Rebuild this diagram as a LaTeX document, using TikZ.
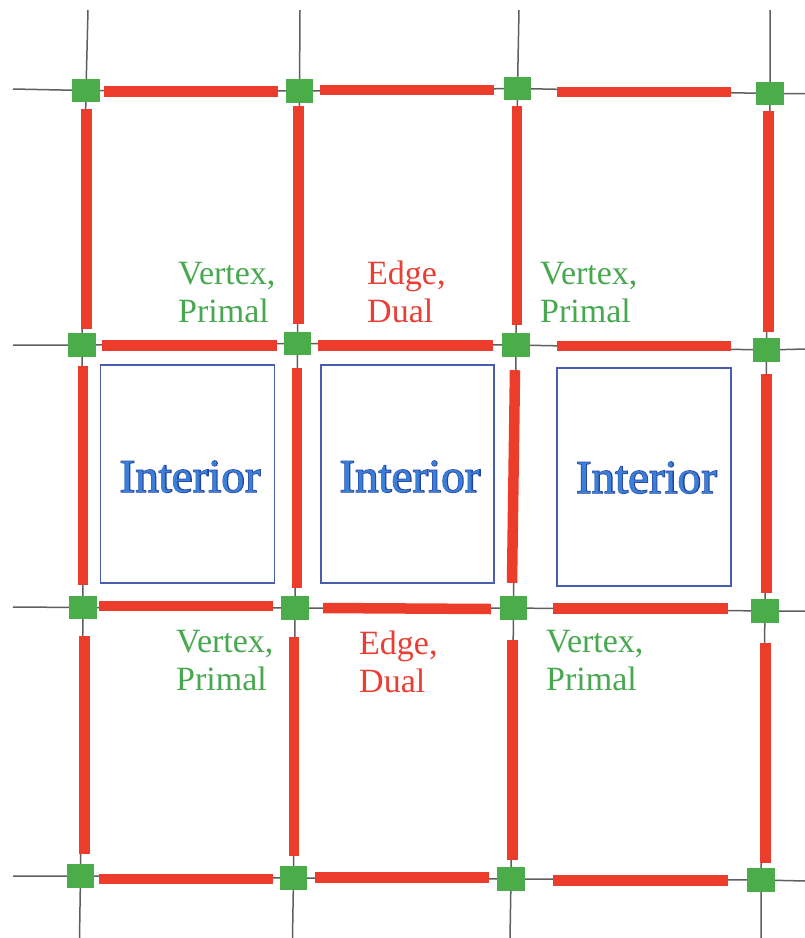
\documentclass[tikz,border=0pt]{standalone}
\usepackage{fontspec}
\setmainfont{Liberation Serif}
\newfontfamily\interiorheavy[FakeBold=3]{Liberation Serif}
\definecolor{vgreen}{RGB}{74,173,74}
\definecolor{ered}{RGB}{236,60,44}
\definecolor{lgreen}{RGB}{72,168,80}
\definecolor{lred}{RGB}{234,62,52}
\definecolor{gridgray}{RGB}{95,95,95}
\definecolor{boxblue}{RGB}{72,92,176}
\definecolor{intfill}{RGB}{58,128,214}
\definecolor{intedge}{RGB}{40,66,160}
\tikzset{
  vtx/.style={rectangle, fill=vgreen, draw=none, inner sep=0pt,
              minimum width=27pt, minimum height=23pt},
  gridline/.style={draw=gridgray, line width=1.5pt},
  bar/.style={draw=ered, line width=10.5pt, line cap=butt},
  ibox/.style={rectangle, draw=boxblue, line width=1.2pt, inner sep=0pt},
  intext/.style={anchor=base, inner sep=0pt, text=intfill,
                 font=\fontsize{47}{50}\selectfont},
  intoutline/.style={anchor=base, inner sep=0pt, text=intedge,
                 font=\interiorheavy\fontsize{47}{50}\selectfont},
  vlabel/.style={anchor=base west, inner sep=0pt, align=left, text=lgreen,
                 font=\fontsize{34}{37.5}\selectfont},
  elabel/.style={anchor=base west, inner sep=0pt, align=left, text=lred,
                 font=\fontsize{34}{37.5}\selectfont}
}
% horizontal edge: #1 left node, #2 right node, #3,#4 start shift, #5,#6 end shift
\newcommand{\hedge}[6]{\draw[bar] ([xshift=#3pt,yshift=#4pt]#1.east) -- ([xshift=#5pt,yshift=#6pt]#2.west);}
% vertical edge: #1 upper node, #2 lower node, #3,#4 start shift, #5,#6 end shift
\newcommand{\vedge}[6]{\draw[bar] ([xshift=#3pt,yshift=#4pt]#1.south) -- ([xshift=#5pt,yshift=#6pt]#2.north);}
\begin{document}
\begin{tikzpicture}[x=1pt,y=-1pt]
\useasboundingbox[fill=white] (0,0) rectangle (805,938);

% vertices of the grid
\node[vtx] (v00) at (86,90.5) {};
\node[vtx] (v01) at (299.5,91) {};
\node[vtx] (v02) at (517.5,88.5) {};
\node[vtx] (v03) at (770,93.5) {};
\node[vtx] (v10) at (82,345) {};
\node[vtx] (v11) at (297.5,343.5) {};
\node[vtx] (v12) at (516,345) {};
\node[vtx] (v13) at (766.5,350) {};
\node[vtx] (v20) at (83,607.5) {};
\node[vtx] (v21) at (295,608) {};
\node[vtx] (v22) at (513.5,608) {};
\node[vtx] (v23) at (765,611) {};
\node[vtx] (v30) at (80.5,876) {};
\node[vtx] (v31) at (293.5,878) {};
\node[vtx] (v32) at (511,879) {};
\node[vtx] (v33) at (761,880) {};

% free ends of the grid lines
\coordinate (t0) at (88,10);
\coordinate (t1) at (300,10);
\coordinate (t2) at (519,10);
\coordinate (t3) at (770,10);
\coordinate (b0) at (79.5,938);
\coordinate (b1) at (292.5,938);
\coordinate (b2) at (510,938);
\coordinate (b3) at (761,938);
\coordinate (l0) at (13,89);
\coordinate (l1) at (13,345);
\coordinate (l2) at (13,607);
\coordinate (l3) at (13,876);
\coordinate (r0) at (805,93.5);
\coordinate (r1) at (805,349);
\coordinate (r2) at (805,611);
\coordinate (r3) at (805,881);

% thin grid lines
\draw[gridline] (t0) -- (v00.center) -- (v10.center) -- (v20.center) -- (v30.center) -- (b0);
\draw[gridline] (t1) -- (v01.center) -- (v11.center) -- (v21.center) -- (v31.center) -- (b1);
\draw[gridline] (t2) -- (v02.center) -- (v12.center) -- (v22.center) -- (v32.center) -- (b2);
\draw[gridline] (t3) -- (v03.center) -- (v13.center) -- (v23.center) -- (v33.center) -- (b3);
\draw[gridline] (l0) -- (v00.center) -- (v01.center) -- (v02.center) -- (v03.center) -- (r0);
\draw[gridline] (l1) -- (v10.center) -- (v11.center) -- (v12.center) -- (v13.center) -- (r1);
\draw[gridline] (l2) -- (v20.center) -- (v21.center) -- (v22.center) -- (v23.center) -- (r2);
\draw[gridline] (l3) -- (v30.center) -- (v31.center) -- (v32.center) -- (v33.center) -- (r3);

% red edges, horizontal
\hedge{v00}{v01}{4.5}{-1}{-8}{-0.5}
\hedge{v01}{v02}{7}{1}{-10}{-1.5}
\hedge{v02}{v03}{26}{-3.5}{-25.5}{1.5}
\hedge{v10}{v11}{6.5}{-0.5}{-7}{-2}
\hedge{v11}{v12}{7}{-2}{-9.5}{-0.5}
\hedge{v12}{v13}{27.5}{-1}{-22}{4}
\hedge{v20}{v21}{2.5}{1.5}{-8.5}{2}
\hedge{v21}{v22}{14.5}{0}{-9}{-1}
\hedge{v22}{v23}{26}{-0.5}{-23.5}{2.5}
\hedge{v30}{v31}{5}{-3}{-7}{-1}
\hedge{v31}{v32}{8}{0.5}{-8.5}{1.5}
\hedge{v32}{v33}{28.5}{-1.5}{-19.5}{-0.5}

% red edges, vertical
\vedge{v00}{v10}{0.5}{-7}{4.5}{4.5}
\vedge{v10}{v20}{1}{-9.5}{0}{11}
\vedge{v20}{v30}{1.5}{-17}{4}{10.5}
\vedge{v01}{v11}{-1}{-3.5}{1}{8}
\vedge{v11}{v21}{-0.5}{-13}{2}{8.5}
\vedge{v21}{v31}{-1}{-17.5}{0.5}{10.5}
\vedge{v02}{v12}{-0.5}{-6}{1}{8.5}
\vedge{v12}{v22}{-1}{-13.5}{-1.5}{13.5}
\vedge{v22}{v32}{-1}{-20.5}{1.5}{7.5}
\vedge{v03}{v13}{-1.5}{-6}{2}{6.5}
\vedge{v13}{v23}{0}{-12.5}{1.5}{6.5}
\vedge{v23}{v33}{0.5}{-20.5}{4.5}{5.5}

% vertices painted again on top of the lines
\foreach \v in {v00,v01,v02,v03,v10,v11,v12,v13,v20,v21,v22,v23,v30,v31,v32,v33}
  \fill[vgreen] (\v.south west) rectangle (\v.north east);

% interior cells
\node[ibox, minimum width=174pt, minimum height=218pt] (c1) at (187.7,474) {};
\node[ibox, minimum width=173pt, minimum height=218pt] (c2) at (407.5,474) {};
\node[ibox, minimum width=174pt, minimum height=218pt] (c3) at (644,477) {};

\node[intoutline] (c1o) at (190.2,492) {Interior};
\node[intext]     (c1t) at (190.2,492) {Interior};
\node[intoutline] (c2o) at (410,492) {Interior};
\node[intext]     (c2t) at (410,492) {Interior};
\node[intoutline] (c3o) at (646.5,493) {Interior};
\node[intext]     (c3t) at (646.5,493) {Interior};

% labels (anchored at the baseline of their last line)
\node[vlabel] (lv1) at (178,322) {Vertex,\\Primal};
\node[elabel] (le1) at (367,322) {Edge,\\Dual};
\node[vlabel] (lv2) at (540,322) {Vertex,\\Primal};
\node[vlabel] (lv3) at (176,690) {Vertex,\\Primal};
\node[elabel] (le2) at (359,692) {Edge,\\Dual};
\node[vlabel] (lv4) at (546,690) {Vertex,\\Primal};
\end{tikzpicture}
\end{document}
